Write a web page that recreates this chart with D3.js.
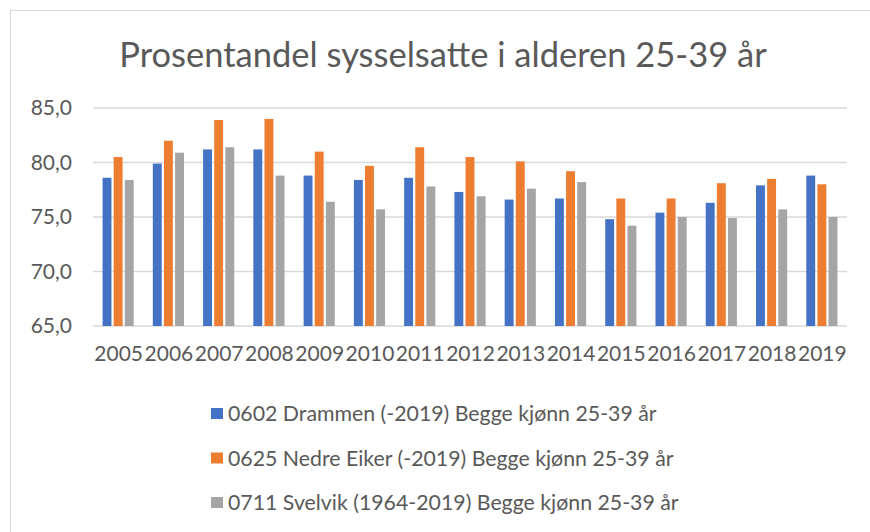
<!DOCTYPE html>
<html>
<head>
  <meta charset="utf-8">
  <style>
    body { margin: 0; background: #fff; }
    text { font-family: Lato, "Open Sans", sans-serif; fill: #595959; }
  </style>
</head>
<body>
  <script src="https://d3js.org/d3.v7.min.js"></script>
  <svg width="870" height="532"></svg>
  <script>
    // data
    var years = ["2005","2006","2007","2008","2009","2010","2011","2012","2013","2014","2015","2016","2017","2018","2019"];
    var drammen    = [78.6, 79.9, 81.2, 81.2, 78.8, 78.4, 78.6, 77.3, 76.6, 76.7, 74.8, 75.4, 76.3, 77.9, 78.8];
    var nedreEiker = [80.5, 82.0, 83.9, 84.0, 81.0, 79.7, 81.4, 80.5, 80.1, 79.2, 76.7, 76.7, 78.1, 78.5, 78.0];
    var svelvik    = [78.4, 80.9, 81.4, 78.8, 76.4, 75.7, 77.8, 76.9, 77.6, 78.2, 74.2, 75.0, 74.9, 75.7, 75.0];
    var seriesNames = ["0602 Drammen (-2019) Begge kjønn 25-39 år",
                       "0625 Nedre Eiker (-2019) Begge kjønn 25-39 år",
                       "0711 Svelvik (1964-2019) Begge kjønn 25-39 år"];
    var yTicks = [65, 70, 75, 80, 85];

    var colors = ["#4472C4", "#ED7D31", "#A5A5A5"];
    var series = [drammen, nedreEiker, svelvik];

    var svg = d3.select("svg");
    var margin = {top: 108, left: 93, right: 23, bottom: 206};
    var width = 870 - margin.left - margin.right,
        height = 532 - margin.top - margin.bottom;

    // chart border
    svg.append("rect")
      .attr("x", 10.5).attr("y", 10.5)
      .attr("width", 870).attr("height", 540)
      .attr("fill", "none").attr("stroke", "#d9d9d9");

    svg.append("text")
      .attr("x", 443).attr("y", 67)
      .attr("text-anchor", "middle")
      .style("font-size", "34.5px")
      .text("Prosentandel sysselsatte i alderen 25-39 år");

    var g = svg.append("g")
      .attr("transform", "translate(" + margin.left + "," + margin.top + ")");

    var x = d3.scaleBand().domain(years).range([0, width]).paddingInner(0.38).paddingOuter(0.19);
    var x1 = d3.scaleBand().domain([0, 1, 2]).range([0, x.bandwidth()]).paddingInner(0.2);
    var y = d3.scaleLinear().domain([65, 85]).range([height, 0]);

    // gridlines
    g.append("g")
      .selectAll("line")
      .data(yTicks)
      .enter().append("line")
      .attr("x1", 0).attr("x2", width)
      .attr("y1", function(d) { return y(d); })
      .attr("y2", function(d) { return y(d); })
      .attr("stroke", "#d9d9d9")
      .attr("stroke-width", 1.5);

    // y labels
    var yAxis = g.append("g")
      .call(d3.axisLeft(y).tickValues(yTicks).tickSize(0).tickPadding(21)
        .tickFormat(function(d) { return d3.format(".1f")(d).replace(".", ","); }));
    yAxis.select(".domain").remove();
    yAxis.selectAll("text").style("font-size", "21px").attr("fill", "#595959");

    // x labels
    var xAxis = g.append("g")
      .attr("transform", "translate(0," + height + ")")
      .call(d3.axisBottom(d3.scalePoint().domain(years).range([0, width]).padding(0.5))
        .tickSize(0).tickPadding(20));
    xAxis.select(".domain").remove();
    xAxis.selectAll("text").style("font-size", "21px").attr("fill", "#595959");

    // bars
    var groups = g.selectAll(".year")
      .data(years)
      .enter().append("g")
      .attr("transform", function(d) { return "translate(" + x(d) + ",0)"; });

    groups.selectAll("rect")
      .data(function(d, i) { return series.map(function(s, k) { return {k: k, v: s[i]}; }); })
      .enter().append("rect")
      .attr("x", function(d) { return x1(d.k); })
      .attr("y", function(d) { return y(d.v); })
      .attr("width", x1.bandwidth())
      .attr("height", function(d) { return height - y(d.v); })
      .attr("fill", function(d) { return colors[d.k]; });

    // legend
    var legend = svg.append("g").attr("transform", "translate(211,408)");
    var items = legend.selectAll("g")
      .data(seriesNames)
      .enter().append("g")
      .attr("transform", function(d, i) { return "translate(0," + (i * 44.5) + ")"; });
    items.append("rect")
      .attr("width", 12).attr("height", 11)
      .attr("fill", function(d, i) { return colors[i]; });
    items.append("text")
      .attr("x", 17).attr("y", 13)
      .style("font-size", "21.3px")
      .text(function(d) { return d; });
  </script>
</body>
</html>
